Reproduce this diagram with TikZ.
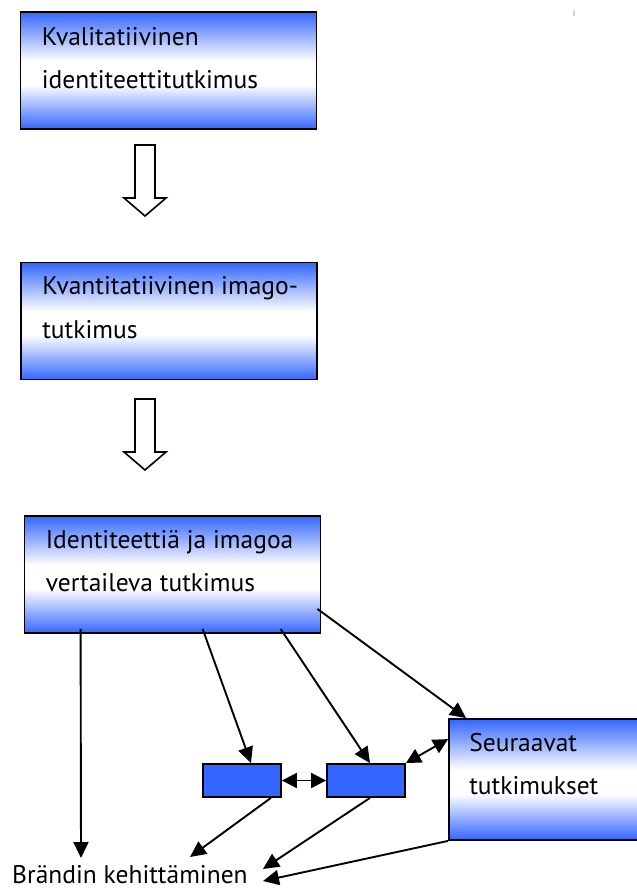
\documentclass[tikz,border=0pt]{standalone}
\usepackage{fontspec}
\setmainfont{PT Sans}
\usetikzlibrary{arrows.meta}

\definecolor{boxblue}{RGB}{51,102,255}
\pgfdeclareverticalshading{studyshade}{100bp}{color(0bp)=(boxblue); color(25bp)=(boxblue); color(44bp)=(white); color(54bp)=(white); color(75bp)=(boxblue); color(100bp)=(boxblue)}

\tikzset{
  study/.style={draw=black, line width=1.8pt, shading=studyshade,
    minimum width=296pt, minimum height=117pt, inner sep=0pt},
  smallbox/.style={draw=black, line width=1.8pt, fill=boxblue, minimum width=78pt, minimum height=33pt, inner sep=0pt},
  boxtext/.style={anchor=north west, inner sep=0pt, align=left, font=\fontsize{25.5}{43.5}\selectfont},
  link/.style={line width=1.9pt, -{Triangle[length=16pt,width=15pt]}},
  twoway/.style={line width=1.9pt, {Triangle[length=15pt,width=15pt]}-{Triangle[length=15pt,width=15pt]}},
  hollow/.style={draw=black, line width=1.6pt, fill=white}
}

\begin{document}
\begin{tikzpicture}[x=1pt,y=-1pt]
    \useasboundingbox (0,0) rectangle (637,889);
    \clip (0,0) rectangle (637,889);
    \node[font=\fontsize{9}{9}\selectfont, text=gray, inner sep=0pt] (mark) at (574,13) {i};
    % the three study boxes
    \node[study] (kval) at (168.5,70.5) {};
    \node[boxtext] (kvaltext) at ([xshift=22pt,yshift=-16pt]kval.north west) {Kvalitatiivinen\\identiteettitutkimus};
    \node[study] (kvant) at (169,321) {};
    \node[boxtext] (kvanttext) at ([xshift=22pt,yshift=-15pt]kvant.north west) {Kvantitatiivinen imago-\\tutkimus};
    \node[study] (vert) at (172.5,574.5) {};
    \node[boxtext] (verttext) at ([xshift=22pt,yshift=-15pt]vert.north west) {Identiteettiä ja imagoa\\vertaileva tutkimus};
    % hollow arrows between them
    \foreach \y in {145,399}
        \draw[hollow] (135,\y) -- (155,\y) -- (155,\y+53) -- (166,\y+53) -- (145,\y+71) -- (124,\y+53) -- (135,\y+53) -- cycle;
    % lower part
    \node[smallbox] (s1) at (242,780.5) {};
    \node[smallbox] (s2) at (366,780.5) {};
    \node[study, minimum width=221pt, minimum height=121pt] (seur) at (559.5,779.5) {};
    \node[boxtext] (seurtext) at ([xshift=21pt,yshift=-15pt]seur.north west) {Seuraavat\\tutkimukset};
    \node[anchor=base west, inner sep=0pt, font=\fontsize{25.5}{28}\selectfont] (brand) at (12,883) {Brändin kehittäminen};
    \draw[link] ([xshift=57pt,yshift=5pt]vert.south west) -- ([xshift=69pt,yshift=25pt]brand.base west);
    \draw[link] ([xshift=179pt,yshift=5pt]vert.south west) -- ([xshift=9pt]s1.north);
    \draw[link] ([xshift=257pt,yshift=5pt]vert.south west) -- ([xshift=4pt]s2.north);
    \draw[link] ([xshift=-4pt,yshift=25pt]vert.south east) -- ([xshift=18pt]seur.north west);
    \draw[twoway] (s1.east) -- (s2.west);
    \draw[twoway] (s2.north east) -- ([yshift=-21pt]seur.north west);
    \draw[link] ([xshift=-11pt]s1.south east) -- ([xshift=178pt,yshift=26pt]brand.base west);
    \draw[link] ([xshift=4pt]s2.south) -- ([xshift=251pt,yshift=14pt]brand.base west);
    \draw[link] (seur.south west) -- ([xshift=251pt,yshift=2pt]brand.base west);
\end{tikzpicture}
\end{document}
